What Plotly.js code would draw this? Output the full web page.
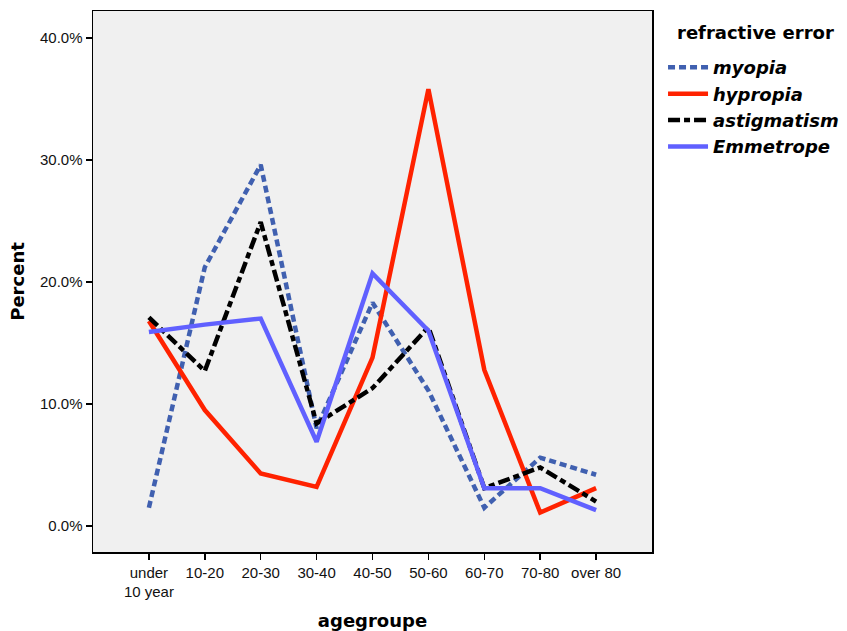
<!DOCTYPE html>
<html>
<head>
<meta charset="utf-8">
<script src="https://cdn.plot.ly/plotly-3.0.1.min.js"></script>
<style>html,body{margin:0;padding:0;background:#fff;}#chart{width:847px;height:631px;}</style>
</head>
<body>
<div id="chart"></div>
<script>
const ageGroups = ["under<br>10 year","10-20","20-30","30-40","40-50","50-60","60-70","70-80","over 80"];
const myopia      = [1.5, 21.2, 29.6, 8.0, 18.3, 11.1, 1.5, 5.6, 4.2];
const hypropia    = [16.8, 9.5, 4.3, 3.2, 13.8, 35.8, 12.8, 1.1, 3.1];
const astigmatism = [17.1, 12.7, 24.9, 8.4, 11.3, 16.3, 3.1, 4.8, 2.0];
const emmetrope   = [15.9, 16.5, 17.0, 6.9, 20.7, 16.0, 3.1, 3.1, 1.3];
const tickVals = [0, 10, 20, 30, 40];
const tickText = ["0.0%","10.0%","20.0%","30.0%","40.0%"];
const legendTitle = "refractive error";

const idx = ageGroups.map((_, i) => i);
const traces = [
  {name:"myopia", y:myopia, line:{color:"#4060b0", width:4.5, dash:"7px,4px"}},
  {name:"hypropia", y:hypropia, line:{color:"#ff2200", width:4.5}},
  {name:"astigmatism", y:astigmatism, line:{color:"#000000", width:4.5, dash:"12px,4px,6px,4px"}},
  {name:"Emmetrope", y:emmetrope, line:{color:"#6060ff", width:4.5}}
].map(t => Object.assign({x: idx, type:"scatter", mode:"lines"}, t));

const titleFont = "DejaVu Sans, sans-serif";
const layout = {
  width: 847, height: 631,
  margin: {l: 93, r: 195, t: 11, b: 79, autoexpand: false},
  paper_bgcolor: "#ffffff",
  plot_bgcolor: "#f0f0f0",
  font: {family: "Liberation Sans, Arial, sans-serif", color: "#000"},
  xaxis: {
    range: [-1, 9], automargin: false,
    tickmode: "array", tickvals: idx, ticktext: ageGroups,
    ticks: "outside", ticklen: 6, tickwidth: 1.5, tickcolor: "#000",
    tickfont: {size: 15, color: "#111"},
    showgrid: false, zeroline: false,
    showline: true, linecolor: "#000", linewidth: 1.5, mirror: true,
    title: {text: "agegroupe", font: {family: titleFont, size: 18, weight: "bold"}, standoff: 16}
  },
  yaxis: {
    range: [-2.13, 42.2], automargin: false,
    tickmode: "array", tickvals: tickVals, ticktext: tickText,
    ticks: "outside", ticklen: 6, tickwidth: 1.5, tickcolor: "#000",
    tickfont: {size: 15, color: "#111"},
    showgrid: false, zeroline: false,
    showline: true, linecolor: "#000", linewidth: 1.5, mirror: true,
    title: {text: "Percent", font: {family: titleFont, size: 18, weight: "bold"}, standoff: 10}
  },
  legend: {
    xref: "container", yref: "container",
    x: 0.7828, y: 0.9223, xanchor: "left", yanchor: "top",
    bgcolor: "rgba(0,0,0,0)",
    font: {family: titleFont, size: 18, weight: "bold", style: "italic"},
    itemwidth: 40, tracegroupgap: 0
  },
  annotations: [{
    text: legendTitle, xref: "paper", yref: "paper",
    x: (675 - 93) / 559, y: 1 - (32 - 11) / 541, xanchor: "left", yanchor: "middle",
    showarrow: false,
    font: {family: titleFont, size: 18, weight: "bold"}
  }],
  showlegend: true
};

Plotly.newPlot("chart", traces, layout, {displayModeBar: false, staticPlot: true});
</script>
</body>
</html>
